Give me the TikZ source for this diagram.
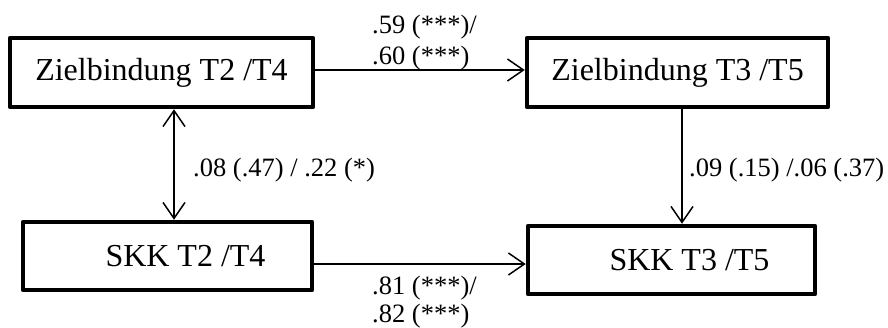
\documentclass[tikz,border=0pt]{standalone}
\usepackage{fontspec}
\setmainfont{Liberation Serif}
\usetikzlibrary{arrows.meta}
\begin{document}
\begin{tikzpicture}[x=1pt,y=-1pt,
  box/.style={draw, line width=4.5pt, line join=round, minimum height=69pt, inner sep=0pt, font=\fontsize{32}{38}\selectfont},
  arr/.style={line width=1.5pt, -{Straight Barb[length=16pt,width=22pt]}},
  darr/.style={line width=1.5pt, {Straight Barb[length=16pt,width=22pt]}-{Straight Barb[length=16pt,width=22pt]}},
  lab/.style={anchor=base west, inner sep=0pt, font=\fontsize{26.5}{32}\selectfont}]
\useasboundingbox (0,0) rectangle (888,327);
\node[box, minimum width=303pt] (z1) at (161.5,72.5) {Zielbindung T2 /T4};
\node[box, minimum width=301pt] (z2) at (677.5,72.5) {Zielbindung T3 /T5};
\node[box, minimum width=289pt, minimum height=68pt] (s1) at (167.5,256) {\hspace*{36pt}SKK T2 /T4};
\node[box, minimum width=287pt, minimum height=68pt] (s2) at (671.5,260) {\hspace*{36pt}SKK T3 /T5};
\draw[arr] ([yshift=2.5pt]z1.east) -- ([yshift=2.5pt]z2.west);
\draw[arr] ([yshift=-8pt]s1.east) -- ([yshift=-4pt]s2.west);
\draw[darr] ([xshift=12.5pt]z1.south) -- ([xshift=6.5pt]s1.north);
\draw[arr] ([xshift=4.5pt]z2.south) -- ([xshift=10.5pt]s2.north);
\node[lab] (l1a) at (372,33) {.59 (***)/};
\node[lab] (l1b) at (372,64) {.60 (***)};
\node[lab] (l2a) at (372,294) {.81 (***)/};
\node[lab] (l2b) at (372,322) {.82 (***)};
\node[lab] (l3) at (193,176) {.08 (.47) / .22 (*)};
\node[lab] (l4) at (689,176) {.09 (.15) /.06 (.37)};
\end{tikzpicture}
\end{document}
